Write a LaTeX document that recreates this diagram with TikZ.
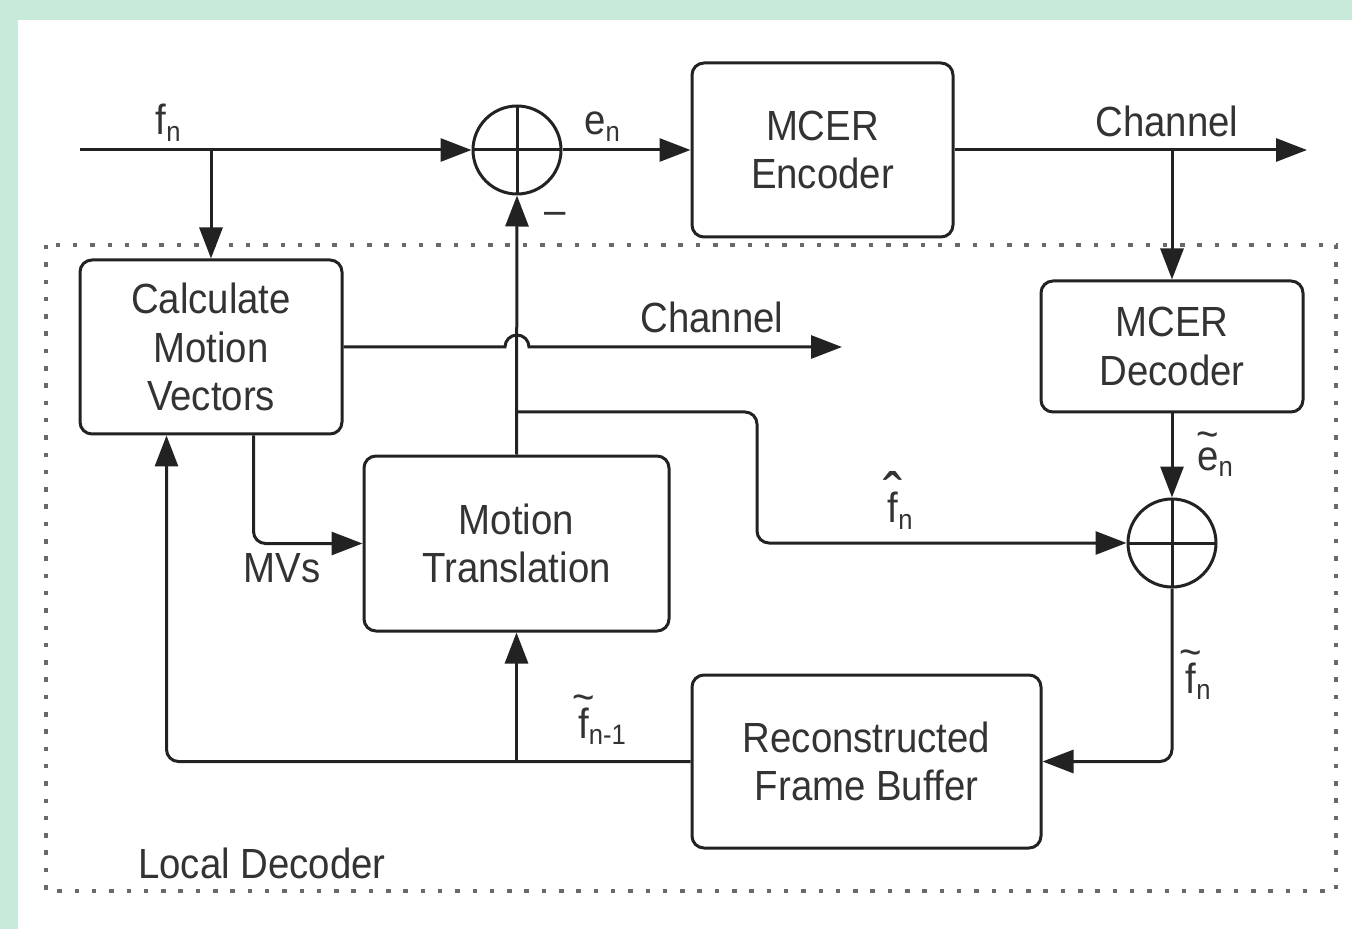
\documentclass[tikz,border=0pt]{standalone}
\usepackage{fontspec}
\setmainfont{Liberation Sans}[FakeStretch=0.91]
\usetikzlibrary{arrows.meta, positioning}
\definecolor{frame1}{RGB}{200,234,216}
\definecolor{gray1}{RGB}{34,34,34}
\definecolor{gray2}{RGB}{51,51,51}
\definecolor{gray3}{RGB}{105,105,105}

\newcommand{\tildetop}[2][0.64em]{\ooalign{#2\cr\hidewidth\raisebox{#1}{\char"7E}\hidewidth\cr}}
\newcommand{\hattop}[2][0.14em]{\ooalign{#2\cr\hidewidth\raisebox{#1}{\scalebox{1.5}{\char"02C6}}\hidewidth\cr}}

\begin{document}
\begin{tikzpicture}[x=0.1mm, y=-0.1mm]

\tikzstyle{block}		=[rectangle, rounded corners=1.2mm, line width=0.3mm, draw=gray1, text=gray2, align=center, inner sep=0pt]
\tikzstyle{sum}		=[circle, line width=0.3mm, draw=gray1, minimum size=8.8mm, inner sep=0pt,
						path picture={\draw[line width=0.3mm, gray1] (path picture bounding box.north) -- (path picture bounding box.south)
							(path picture bounding box.west) -- (path picture bounding box.east);}]
\tikzstyle{connection}	=[line width=0.3mm, draw=gray1, -{Triangle[length=3.1mm, width=2.3mm]}]
\tikzstyle{lbl}		=[text=gray2, anchor=base, inner sep=0pt]
\tikzstyle{localbox}	=[draw=gray3, line width=0.45mm, dash pattern=on 0.45mm off 1.28mm]
\fontsize{12}{13.7}\selectfont

\useasboundingbox (0,0) rectangle (1352,929);
\fill[frame1] (0,0) rectangle (1352,929);
\fill[white] (18,20) rectangle (1352,929);

\draw[localbox] (46,245) rectangle (1336,891);
\node[lbl] (local) at (262,878) {Local Decoder};

\coordinate (in) at (80,150);
\coordinate (out) at (1307,150);
\coordinate (chan) at (842,347);
\coordinate (hop) at (505,347);
\coordinate (tap) at (517,412);
\coordinate (bend) at (757,412);

\node[sum] 	(sum1) 	at (517,150)	{};
\node[sum] 	(sum2) 	at (1172,543)	{};

\node[block, minimum width=26.2mm, minimum height=17.4mm] 	(calc) 	at (211,347)		{Calculate\\Motion\\Vectors};
\node[block, minimum width=30.5mm, minimum height=17.5mm] 	(mt) 	at (516.5,543.5)	{Motion\\Translation};
\node[block, minimum width=26.1mm, minimum height=17.4mm] 	(enc) 	at (822.5,150)	{MCER\\Encoder};
\node[block, minimum width=26.2mm, minimum height=13.1mm] 	(dec) 	at (1172,346.5)	{MCER\\Decoder};
\node[block, minimum width=34.9mm, minimum height=17.3mm] 	(buf) 	at (866.5,761.5)	{Reconstructed\\Frame Buffer};

\draw [connection]  (in) -- (sum1.west);
\draw [connection]  (sum1.east) -- (enc.west);
\draw [connection]  (enc.east) -- (out);
\draw [connection]  (calc.north |- in) -- (calc.north);
\draw [connection]  (dec.north |- out) -- (dec.north);
\draw [connection]  (dec.south) -- (sum2.north);

\draw [connection, rounded corners=1.2mm]  (sum2.south) |- (buf.east);
\draw [connection, rounded corners=1.2mm]  (buf.west) -| ([xshift=8.8mm]calc.south west);
\draw [connection]  (mt.south |- buf.west) -- (mt.south);
\draw [connection]  (mt.north) -- (sum1.south);
\draw [connection, rounded corners=1.2mm]  (tap) -- (bend) |- (sum2.west);
\draw [connection]  (calc.east) -- (hop) arc[start angle=180, end angle=0, radius=1.2mm] -- (chan);
\draw [connection, rounded corners=1.2mm]  ([xshift=17.5mm]calc.south west) |- (mt.west);

\node[lbl] (lfn) 	at (169,135) 	{f\textsubscript{n}};
\node[lbl] (len) 	at (603,135) 	{e\textsubscript{n}};
\node[lbl] (lminus) 	at (555,225) 	{\textendash};
\node[lbl] (lch1) 	at (1167,137) 	{Channel};
\node[lbl] (lch2) 	at (712,333) 	{Channel};
\node[lbl] (lmv) 	at (282,582) 	{MVs};
\node[lbl] (lhat) 	at (901,523) 	{\hattop{f}\textsubscript{n}};
\node[lbl] (len2) 	at (1216,470) 	{\tildetop[0.5em]{e}\textsubscript{n}};
\node[lbl] (lfn2) 	at (1199,693) 	{\tildetop{f}\textsubscript{n}};
\node[lbl] (lfn1) 	at (603,738) 	{\tildetop{f}\textsubscript{n-1}};

\end{tikzpicture}
\end{document}
